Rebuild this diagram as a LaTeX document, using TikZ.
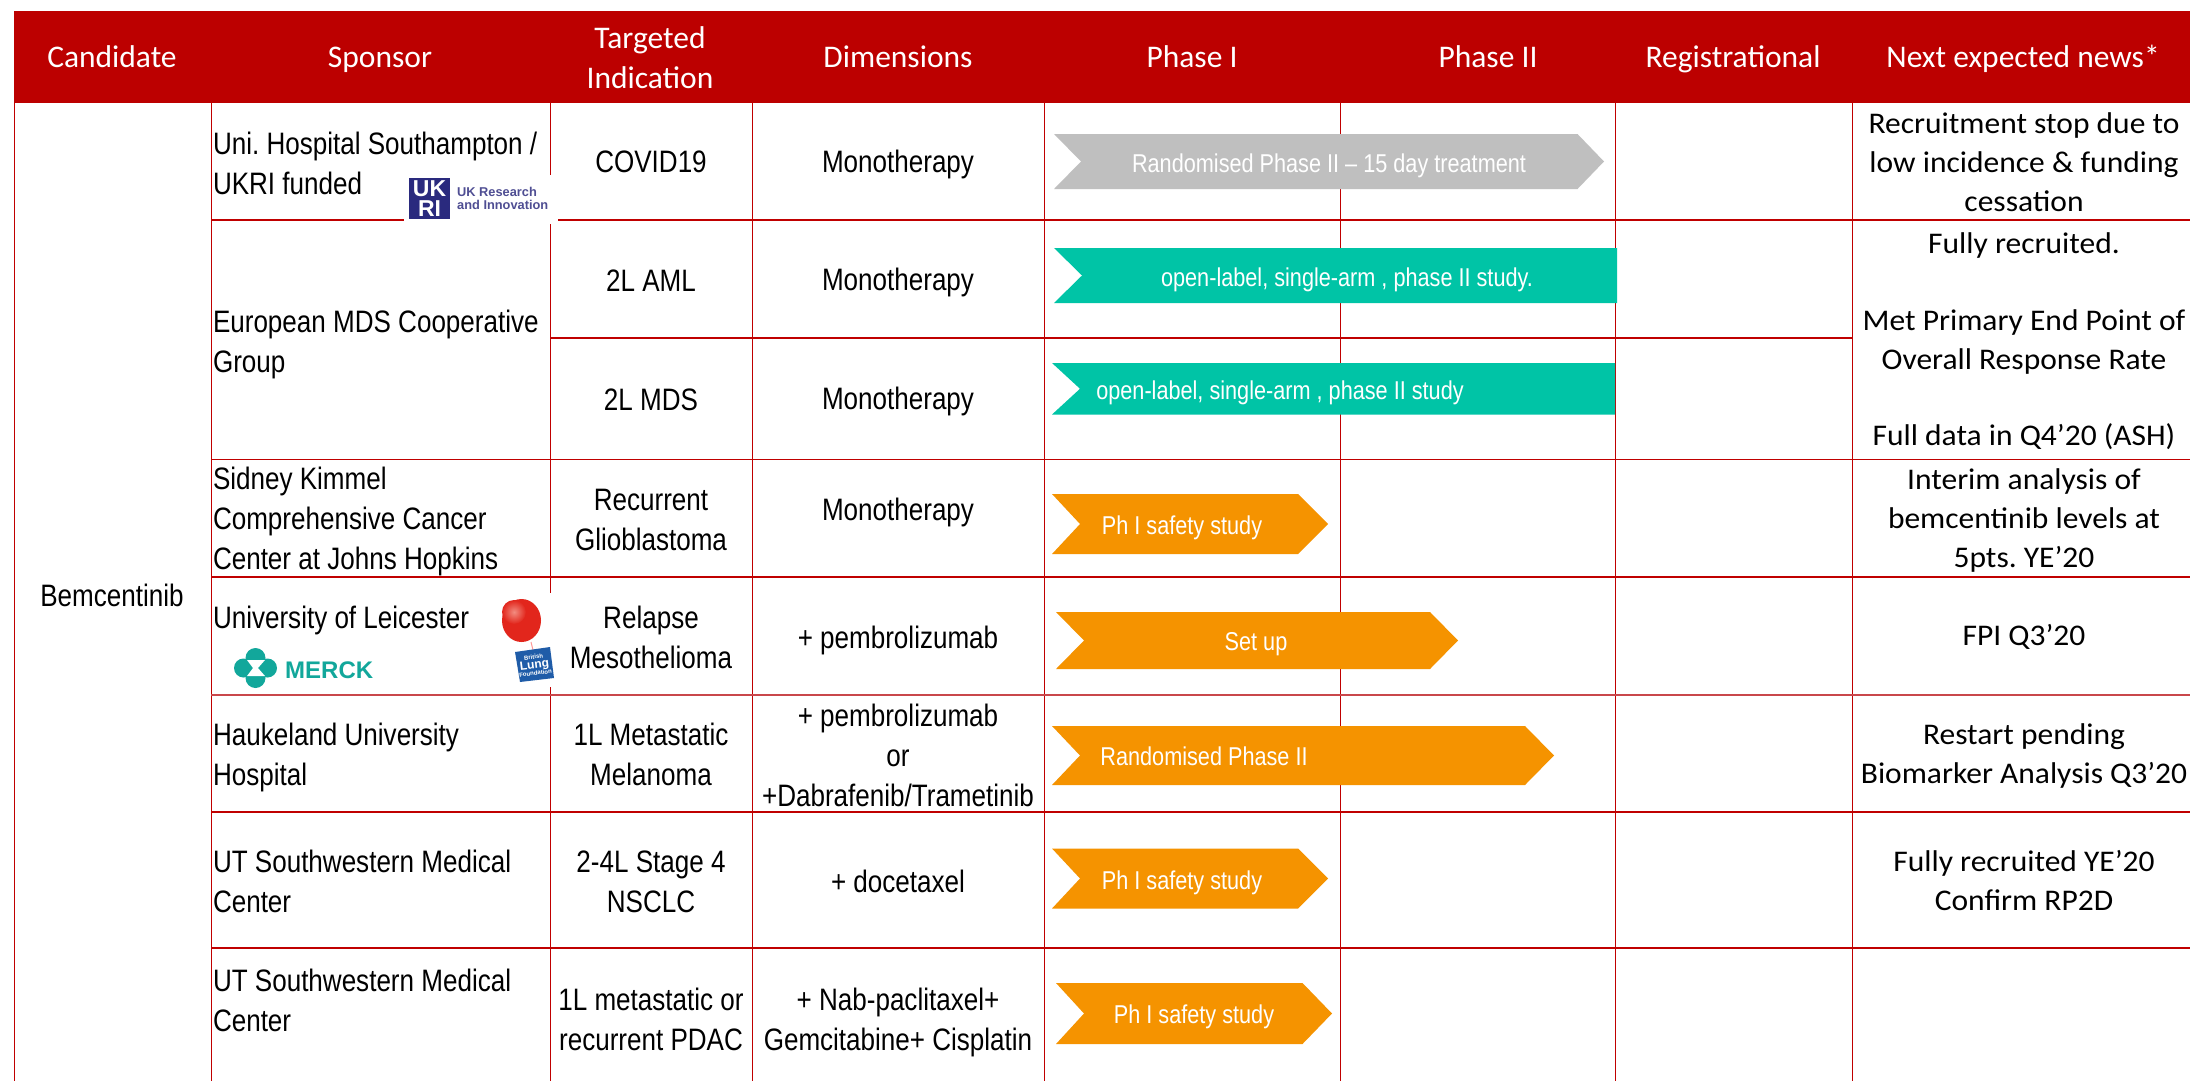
\documentclass[tikz,border=0pt]{standalone}
\usepackage{fontspec}
\setmainfont[FakeStretch=0.84]{Liberation Sans}
\newfontfamily\plain{Liberation Sans}
\newfontfamily\carl{Carlito}
\newfontfamily\carlw[FakeStretch=1.05]{Carlito}
\definecolor{hdr}{HTML}{BC0000}
\definecolor{rule}{HTML}{C00000}
\definecolor{ruleb}{HTML}{C9474B}
\definecolor{greybar}{HTML}{BFBFBF}
\definecolor{tealbar}{HTML}{00C4A6}
\definecolor{orangebar}{HTML}{F59300}
\definecolor{ukri}{HTML}{2A2A7E}
\definecolor{ukrit}{HTML}{4F4E93}
\definecolor{merck}{HTML}{12A79B}
\definecolor{blf}{HTML}{1F5CA8}
\definecolor{balloon}{HTML}{E2261C}
\definecolor{balloonlight}{HTML}{F28C80}
\tikzset{
  x=1pt,y=-1pt,
  basecell/.style={inner sep=0pt,outer sep=0pt,align=center,text=black,font=\fontsize{31}{40}\selectfont\frenchspacing},
  cell/.style={basecell,yshift=-1pt},
  sponsor/.style={cell,align=left,anchor=west},
  head/.style={basecell,text=white,font=\carl\fontsize{31.5}{40}\selectfont\frenchspacing},
  news/.style={basecell,font=\carlw\fontsize{30}{39}\selectfont\frenchspacing},
  bartext/.style={basecell,text=white,font=\fontsize{25.8}{40}\selectfont\frenchspacing},
  gridline/.style={draw=rule,line width=1pt},
  hline/.style={draw=rule,line width=1.3pt},
}
\newcommand{\tl}[1]{\strut #1\strut}
% #1 colour, #2 left, #3 notch, #4 shoulder, #5 tip, #6 top, #7 bottom
\newcommand{\chevron}[7]{\fill[#1] (#2,#6) -- (#4,#6) -- (#5,{(#6+#7)/2}) -- (#4,#7) -- (#2,#7) -- (#3,{(#6+#7)/2}) -- cycle;}
\begin{document}
\begin{tikzpicture}
\useasboundingbox (0,0) rectangle (2190,1081);
\fill[white] (0,0) rectangle (2190,1081);
% header
\fill[hdr] (14,11) rectangle (2190,103);
% grid
\foreach \x in {14,211,550,752,1044,1340,1615,1852} \draw[gridline] (\x,103) -- (\x,1081);
\foreach \y in {220,459.5,577,812,948} \draw[hline] (211,\y) -- (2190,\y);
\draw[hline,draw=ruleb,line width=2pt] (211,695) -- (2190,695);
\draw[hline] (550,338) -- (1852,338);
% white patches behind logos
\fill[white] (404,175) rectangle (558,224);
\fill[white] (545,593) rectangle (556,687);
% bars
\chevron{greybar}{1054}{1081}{1577.5}{1604}{134}{189}
\chevron{tealbar}{1054}{1082}{1617}{1617}{248}{303}
\chevron{tealbar}{1052}{1080}{1615}{1615}{363}{414.5}
\chevron{orangebar}{1052}{1080}{1298}{1328}{494}{554}
\chevron{orangebar}{1056}{1084}{1430}{1458}{612}{669}
\chevron{orangebar}{1052}{1080}{1525}{1554}{726}{785}
\chevron{orangebar}{1052}{1080}{1298}{1328}{848.5}{908.5}
\chevron{orangebar}{1056}{1084}{1302.5}{1332}{983}{1044}
% header text
\node[head] (h1) at (112,60) {\tl{Candidate}};
\node[head] (h2) at (380,60) {\tl{Sponsor}};
\node[head] (h3) at (650,60.5) {\strut Targeted\\Indication\strut};
\node[head] (h4) at (898,60) {\tl{Dimensions}};
\node[head] (h5) at (1192,60) {\tl{Phase I}};
\node[head] (h6) at (1488,60) {\tl{Phase II}};
\node[head] (h7) at (1733,60) {\tl{Registrational}};
\node[head] (h8) at (2023,60) {\tl{Next expected news*}};
% candidate
\node[cell] (cand) at (112,597.5) {\tl{Bemcentinib}};
% sponsor
\node[sponsor] (s1) at (213,165) {\strut Uni. Hospital Southampton /\\UKRI funded\strut};
\node[sponsor] (s2) at (213,343) {\strut European MDS Cooperative\\Group\strut};
\node[sponsor] (s3) at (213,520) {\strut Sidney Kimmel\\Comprehensive Cancer\\Center at Johns Hopkins\strut};
\node[sponsor] (s4) at (213,619) {\tl{University of Leicester}};
\node[sponsor] (s5) at (213,756.5) {\strut Haukeland University\\Hospital\strut};
\node[sponsor] (s6) at (213,883) {\strut UT Southwestern Medical\\Center\strut};
\node[sponsor] (s7) at (213,1002) {\strut UT Southwestern Medical\\Center\strut};
% indication
\node[cell] (i1) at (651,163.5) {\tl{COVID19}};
\node[cell] (i2) at (651,282) {\tl{2L AML}};
\node[cell] (i3) at (651,401) {\tl{2L MDS}};
\node[cell] (i4) at (651,521.5) {\strut Recurrent\\Glioblastoma\strut};
\node[cell] (i5) at (651,639.5) {\strut Relapse\\Mesothelioma\strut};
\node[cell] (i6) at (651,756.5) {\strut 1L Metastatic\\Melanoma\strut};
\node[cell] (i7) at (651,883) {\strut 2-4L Stage 4\\NSCLC\strut};
\node[cell] (i8) at (651,1021) {\strut 1L metastatic or\\recurrent PDAC\strut};
% dimensions
\node[cell] (d1) at (898,163) {\tl{Monotherapy}};
\node[cell] (d2) at (898,281) {\tl{Monotherapy}};
\node[cell] (d3) at (898,400) {\tl{Monotherapy}};
\node[cell] (d4) at (898,511) {\tl{Monotherapy}};
\node[cell] (d5) at (898,639) {\tl{+ pembrolizumab}};
\node[cell] (d6) at (898,757) {\strut + pembrolizumab\\or\\+Dabrafenib/Trametinib\strut};
\node[cell] (d7) at (898,883) {\tl{+ docetaxel}};
\node[cell] (d8) at (898,1021) {\strut + Nab-paclitaxel+\\Gemcitabine+ Cisplatin\strut};
% bar text
\node[bartext] (b1) at (1329,164) {\tl{Randomised Phase II – 15 day treatment}};
\node[bartext] (b2) at (1347,278.5) {\tl{open-label, single-arm , phase II study.}};
\node[bartext] (b3) at (1280,391.5) {\tl{open-label, single-arm , phase II study}};
\node[bartext] (b4) at (1182,526.5) {\tl{Ph I safety study}};
\node[bartext] (b5) at (1256,642.5) {\tl{Set up}};
\node[bartext] (b6) at (1204,757.5) {\tl{Randomised Phase II}};
\node[bartext] (b7) at (1182,881.5) {\tl{Ph I safety study}};
\node[bartext] (b8) at (1194,1015.5) {\tl{Ph I safety study}};
% news
\node[news] (n1) at (2024,165) {\strut Recruitment stop due to\\low incidence \& funding\\cessation\strut};
\node[news] (n2) at (2024,246) {\tl{Fully recruited.}};
\node[news] (n3) at (2024,342) {\strut Met Primary End Point of\\Overall Response Rate\strut};
\node[news] (n4) at (2024,438) {\tl{Full data in Q4’20 (ASH)}};
\node[news] (n5) at (2024,521) {\strut Interim analysis of\\bemcentinib levels at\\5pts. YE’20\strut};
\node[news] (n6) at (2024,638) {\tl{FPI Q3’20}};
\node[news] (n7) at (2024,756.5) {\strut Restart pending\\Biomarker Analysis Q3’20\strut};
\node[news] (n8) at (2024,883) {\strut Fully recruited YE’20\\Confirm RP2D\strut};
% UKRI logo
\fill[ukri] (409,178) rectangle (450,219);
\node[inner sep=0pt,text=white,font=\plain\bfseries\fontsize{23}{23}\selectfont] (ukl) at (429.5,188.5) {UK};
\node[inner sep=0pt,text=white,font=\plain\bfseries\fontsize{23}{23}\selectfont] (ril) at (429.5,208.5) {RI};
\node[inner sep=0pt,anchor=base west,text=ukrit,font=\plain\bfseries\fontsize{12.8}{13}\selectfont] (ukt1) at (457,196) {UK Research};
\node[inner sep=0pt,anchor=base west,text=ukrit,font=\plain\bfseries\fontsize{12.8}{13}\selectfont] (ukt2) at (457,209) {and Innovation};
% Merck logo
\fill[merck] (243.5,668) circle (9.5);
\fill[merck] (267.5,668) circle (9.5);
\fill[merck] (255.5,658) circle (10);
\fill[merck] (255.5,678) circle (10);
\fill[merck] (244,660) rectangle (267,676);
\fill[white] (247,660) -- (265,660) -- (258,668) -- (265,676) -- (247,676) -- (253,668) -- cycle;
\node[inner sep=0pt,anchor=base west,text=merck,font=\plain\bfseries\fontsize{24}{24}\selectfont] (mk) at (285,678) {MERCK};
% balloon and British Lung Foundation tag
\draw[draw=red!40!white,line width=1pt] (531,642) -- (534,654);
\fill[balloon] (521.5,620.5) ellipse (19.5 and 21.5);
\shade[inner color=balloonlight,outer color=balloon] (514,612) circle (12);
\fill[blf] (515,652) -- (550,647) -- (554,678) -- (520,682) -- cycle;
\node[inner sep=0pt,align=center,text=white,rotate=7,font=\plain\bfseries\fontsize{6}{7}\selectfont] (blfl) at (534.5,665) {British\\{\fontsize{12}{11}\selectfont Lung}\\Foundation};
\end{tikzpicture}
\end{document}
